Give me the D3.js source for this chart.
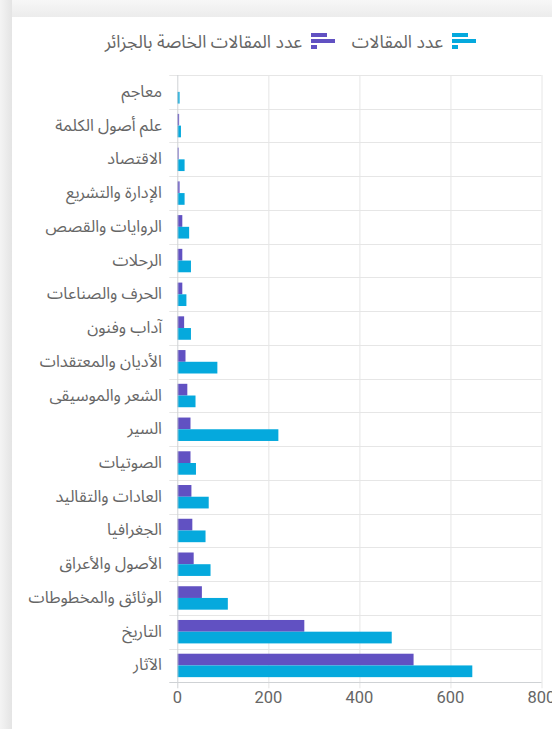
<!DOCTYPE html>
<html>
<head>
<meta charset="utf-8">
<script src="https://cdn.jsdelivr.net/npm/d3@7/dist/d3.min.js"></script>
<style>
html,body{margin:0;padding:0;background:#fff;}
svg{display:block;}
</style>
</head>
<body>
<svg id="chart" width="552" height="729"></svg>
<script>
const categories = ["معاجم","علم أصول الكلمة","الاقتصاد","الإدارة والتشريع","الروايات والقصص","الرحلات","الحرف والصناعات","آداب وفنون","الأديان والمعتقدات","الشعر والموسيقى","السير","الصوتيات","العادات والتقاليد","الجغرافيا","الأصول والأعراق","الوثائق والمخطوطات","التاريخ","الآثار"];
const algeriaArticles = [0,4,3,5,11,11,11,15,18,22,29,29,31,33,36,54,279,519];
const allArticles = [5,8,16,16,26,30,20,30,88,40,222,41,69,62,73,111,471,648];
const seriesNames = ["عدد المقالات الخاصة بالجزائر","عدد المقالات"];
const seriesColors = ["#6151c2","#05a9dd"];
const xTicks = [0,200,400,600,800];

(function(){
const svg = d3.select("#chart");
const defs = svg.append("defs");
const lg = defs.append("linearGradient").attr("id","lshade").attr("x1","0").attr("x2","1");
lg.append("stop").attr("offset","0").attr("stop-color","#f4f4f4");
lg.append("stop").attr("offset","1").attr("stop-color","#e4e4e4");
const tg = defs.append("linearGradient").attr("id","tshade").attr("x1","0").attr("x2","0").attr("y1","0").attr("y2","1");
tg.append("stop").attr("offset","0").attr("stop-color","#f7f7f7");
tg.append("stop").attr("offset","1").attr("stop-color","#ececec");

svg.append("rect").attr("width",552).attr("height",729).attr("fill","#f3f3f3");
svg.append("rect").attr("x",0).attr("y",0).attr("width",552).attr("height",17).attr("fill","url(#tshade)");
svg.append("rect").attr("x",0).attr("y",0).attr("width",12).attr("height",729).attr("fill","url(#lshade)");
svg.append("rect").attr("x",12).attr("y",17).attr("width",560).attr("height",729).attr("fill","#ffffff");

const mLeft = 177.3, mRight = 541.5, mTop = 75, mBottom = 682.3;

const x = d3.scaleLinear().domain([0,800]).range([mLeft,mRight]);
const y = d3.scaleBand().domain(categories).range([mTop,mBottom]).paddingInner(0).paddingOuter(0);
const ys = d3.scaleBand().domain([0,1]).range([0,y.bandwidth()]).paddingInner(0).paddingOuter(0.44);

const gridColor = "#e6e6e6";
const axisColor = "#cfd2d5";

svg.append("g").selectAll("line").data(xTicks.slice(1)).join("line")
  .attr("x1",d=>x(d)+0.5).attr("x2",d=>x(d)+0.5)
  .attr("y1",mTop).attr("y2",mBottom+6)
  .attr("stroke",gridColor).attr("stroke-width",1);

const bounds = categories.map(c=>y(c)).concat([mBottom]);
svg.append("g").selectAll("line").data(bounds).join("line")
  .attr("x1",mLeft-8).attr("x2",mRight)
  .attr("y1",d=>Math.round(d)+0.5).attr("y2",d=>Math.round(d)+0.5)
  .attr("stroke",(d,i)=>i===bounds.length-1?axisColor:gridColor).attr("stroke-width",1);

const data = categories.map((c,i)=>({c, v:[algeriaArticles[i], allArticles[i]]}));
const g = svg.append("g");
[0,1].forEach(s=>{
  g.selectAll("rect.s"+s).data(data).join("rect")
    .attr("class","s"+s)
    .attr("x",x(0))
    .attr("y",d=>y(d.c)+ys(s))
    .attr("width",d=>Math.max(0,x(d.v[s])-x(0)))
    .attr("height",ys.bandwidth())
    .attr("fill",seriesColors[s]);
});

svg.append("line").attr("x1",mLeft+0.5).attr("x2",mLeft+0.5).attr("y1",mTop).attr("y2",mBottom+6)
  .attr("stroke",axisColor).attr("stroke-width",1);

svg.append("g").selectAll("text").data(categories).join("text")
  .attr("x",162).attr("y",d=>y(d)+y.bandwidth()/2)
  .attr("text-anchor","end").attr("dominant-baseline","central")
  .attr("font-family","'Noto Sans Arabic','DejaVu Sans',sans-serif")
  .attr("font-size",16.3).attr("fill","#666")
  .text(d=>d);

svg.append("g").selectAll("text").data(xTicks).join("text")
  .attr("x",d=>x(d)).attr("y",703)
  .attr("text-anchor","middle")
  .attr("font-family","Roboto, sans-serif")
  .attr("font-size",16.5).attr("fill","#666")
  .text(d=>d);

const legendItems = [
  {name:seriesNames[1], color:seriesColors[1], ix:452, tx:443},
  {name:seriesNames[0], color:seriesColors[0], ix:311, tx:302}
];
const leg = svg.append("g");
legendItems.forEach(it=>{
  const gi = leg.append("g");
  gi.append("rect").attr("x",it.ix).attr("y",33).attr("width",16).attr("height",4).attr("fill",it.color);
  gi.append("rect").attr("x",it.ix).attr("y",39).attr("width",24).attr("height",4).attr("fill",it.color);
  gi.append("rect").attr("x",it.ix).attr("y",45).attr("width",6).attr("height",4).attr("fill",it.color);
  gi.append("text").attr("x",it.tx).attr("y",42)
    .attr("text-anchor","end").attr("dominant-baseline","central")
    .attr("font-family","'Noto Sans Arabic','DejaVu Sans',sans-serif")
    .attr("font-size",17.5).attr("fill","#666")
    .text(it.name);
});
})();
</script>
</body>
</html>
